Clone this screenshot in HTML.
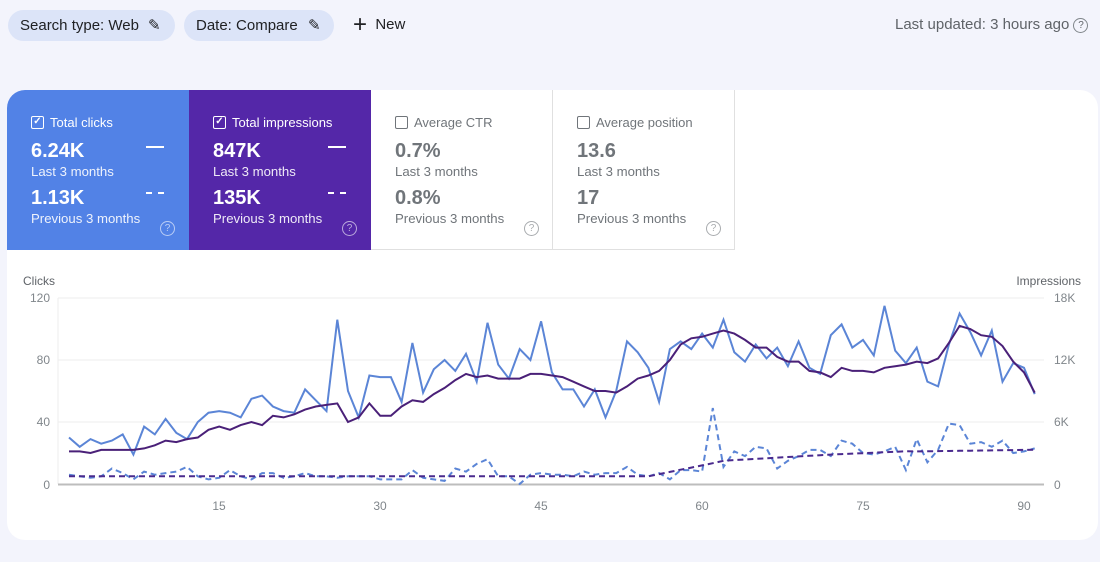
<!DOCTYPE html>
<html><head><style>
body{margin:0;width:1100px;height:562px;background:#f3f4fc;font-family:"Liberation Sans",sans-serif;position:relative;overflow:hidden}
.chip{position:absolute;top:10px;height:31px;border-radius:16px;background:#dce4f8;color:#202124;font-size:15px;line-height:31px;padding-left:12px}
.card{position:absolute;left:7px;top:90px;width:1091px;height:450px;background:#fff;border-radius:18px;overflow:hidden}
.tile{position:absolute;top:0;width:182px;height:160px;box-sizing:border-box;padding-left:24px;font-size:13px}
.tile .h{position:absolute;top:25px;left:24px;font-size:13px}
.cb{display:inline-block;width:11px;height:11px;border:1.5px solid currentColor;border-radius:2px;vertical-align:-2px;margin-right:6px;position:relative}
.cb i{position:absolute;left:0;top:-1px;width:11px;font-size:10px;line-height:12px;text-align:center;font-style:normal;font-weight:bold}
.v{position:absolute;left:24px;font-size:20px;font-weight:bold}
.s{position:absolute;left:24px;font-size:13.2px}
.q{position:absolute;left:153px;top:131px;width:13px;height:13px;border:1.5px solid currentColor;border-radius:50%;font-size:10px;text-align:center;line-height:13px;opacity:.6}
</style></head><body>
<div class="chip" style="left:8px;width:155px">Search type: Web <span style="position:absolute;left:140px">✎</span></div>
<div class="chip" style="left:184px;width:138px">Date: Compare <span style="position:absolute;left:124px">✎</span></div>
<div style="position:absolute;left:353px;top:12px;font-size:15px;color:#202124;line-height:26px"><span style="font-size:24px;vertical-align:-3px">+</span>&nbsp;&nbsp;New</div>
<div style="position:absolute;left:895px;top:16px;font-size:15px;color:#5f6368">Last updated: 3 hours ago <span style="display:inline-block;width:13px;height:13px;border:1.5px solid #80868b;border-radius:50%;font-size:10px;text-align:center;line-height:13px;vertical-align:1px">?</span></div>
<div class="card">
<div class="tile" style="left:0;background:#5282e6;color:#fff">
<div class="h"><span class="cb"><i>✓</i></span>Total clicks</div>
<div class="v" style="top:50px">6.24K</div><div style="position:absolute;left:139px;top:56px;width:18px;height:2px;background:#fff"></div>
<div class="s" style="top:74px;opacity:.9">Last 3 months</div>
<div class="v" style="top:97px">1.13K</div><div style="position:absolute;left:139px;top:102px;width:18px;border-top:2px dashed #fff"></div>
<div class="s" style="top:121px;opacity:.9">Previous 3 months</div><div class="q">?</div></div>
<div class="tile" style="left:182px;background:#5427a8;color:#fff">
<div class="h"><span class="cb"><i>✓</i></span>Total impressions</div>
<div class="v" style="top:50px">847K</div><div style="position:absolute;left:139px;top:56px;width:18px;height:2px;background:#fff"></div>
<div class="s" style="top:74px;opacity:.9">Last 3 months</div>
<div class="v" style="top:97px">135K</div><div style="position:absolute;left:139px;top:102px;width:18px;border-top:2px dashed #fff"></div>
<div class="s" style="top:121px;opacity:.9">Previous 3 months</div><div class="q">?</div></div>
<div class="tile" style="left:364px;color:#70757a;border-right:1px solid #e0e0e0;border-bottom:1px solid #e0e0e0">
<div class="h"><span class="cb"></span>Average CTR</div>
<div class="v" style="top:50px">0.7%</div><div class="s" style="top:74px">Last 3 months</div>
<div class="v" style="top:97px">0.8%</div><div class="s" style="top:121px">Previous 3 months</div><div class="q">?</div></div>
<div class="tile" style="left:546px;color:#70757a;border-right:1px solid #e0e0e0;border-bottom:1px solid #e0e0e0">
<div class="h"><span class="cb"></span>Average position</div>
<div class="v" style="top:50px">13.6</div><div class="s" style="top:74px">Last 3 months</div>
<div class="v" style="top:97px">17</div><div class="s" style="top:121px">Previous 3 months</div><div class="q">?</div></div>
</div>
<svg id="c" width="1100" height="562" style="position:absolute;left:0;top:0" font-family="Liberation Sans, sans-serif" font-size="12" fill="#80868b">
<text x="23" y="285" fill="#5f6368">Clicks</text><text x="1081" y="285" text-anchor="end" fill="#5f6368">Impressions</text>
<g stroke="#eeeeee"><line x1="58" x2="1044" y1="298" y2="298"/><line x1="58" x2="1044" y1="360" y2="360"/><line x1="58" x2="1044" y1="422" y2="422"/></g>
<line x1="58" x2="58" y1="298" y2="484" stroke="#eeeeee"/>
<line x1="58" x2="1044" y1="484.5" y2="484.5" stroke="#bdbdbd" stroke-width="2"/>
<g text-anchor="end"><text x="50" y="302">120</text><text x="50" y="364">80</text><text x="50" y="426">40</text><text x="50" y="489">0</text></g>
<g><text x="1054" y="302">18K</text><text x="1054" y="364">12K</text><text x="1054" y="426">6K</text><text x="1054" y="489">0</text></g>
<g text-anchor="middle"><text x="219" y="510">15</text><text x="380" y="510">30</text><text x="541" y="510">45</text><text x="702" y="510">60</text><text x="863" y="510">75</text><text x="1024" y="510">90</text></g>
</svg>
<script>
var bs=[30,24,29,26,28,32,19,37,32,42,33,29,40,46,47,46,43,55,57,50,47,46,61,54,47,106,60,43,70,69,69,53,91,59,74,80,73,84,66,104,77,68,87,80,105,72,61,61,50,61,43,60,92,85,75,53,87,92,87,97,88,106,85,79,90,81,88,76,92,75,71,96,103,88,93,83,115,86,78,88,66,63,90,110,98,83,99,66,78,75,58];
var ps=[21,21,20,22,22,22,22,23,25,28,27,29,30,35,37,35,38,40,38,44,43,45,48,50,51,52,40,43,52,44,44,50,54,53,58,62,67,71,69,70,68,68,68,71,71,70,69,66,63,60,60,59,63,68,70,73,80,90,94,95,97,99,97,93,88,88,82,79,79,73,72,69,75,73,73,72,75,76,77,79,78,81,91,102,100,96,95,89,79,72,59];
var bd=[6,5,4,5,10,7,3,8,6,7,8,11,5,3,4,9,5,3,7,7,4,5,7,5,5,4,5,5,5,3,3,3,9,4,3,2,10,8,13,16,5,5,0,6,7,6,6,5,8,6,7,7,11,6,5,7,3,9,9,8,49,11,21,18,24,23,10,15,18,22,22,18,28,26,20,19,21,24,9,29,14,22,39,38,26,27,24,28,20,21,23];
var pd=[];for(var i=0;i<91;i++){var d=i+1;var v=d<55?5:d<62?5+(d-55)*1.4:d<72?15+(d-62)*0.4:d<80?19+(d-72)*0.3:21+(d-80)*0.1;pd.push(v);}
function pts(a){var s="";for(var i=0;i<91;i++){var v=a[Math.min(i,a.length-1)];s+=(69+i*10.73).toFixed(1)+","+(484-v*1.55).toFixed(1)+" ";}return s;}
var svg=document.getElementById("c");
function add(a,col,dash){var p=document.createElementNS("http://www.w3.org/2000/svg","polyline");p.setAttribute("points",pts(a));p.setAttribute("fill","none");p.setAttribute("stroke",col);p.setAttribute("stroke-width","2");if(dash)p.setAttribute("stroke-dasharray","6,4");svg.appendChild(p);}
add(bd,"#5b85d6",1);add(pd,"#4a2a8e",1);add(bs,"#5b85d6",0);add(ps,"#4a2078",0);
</script>
</body></html>
